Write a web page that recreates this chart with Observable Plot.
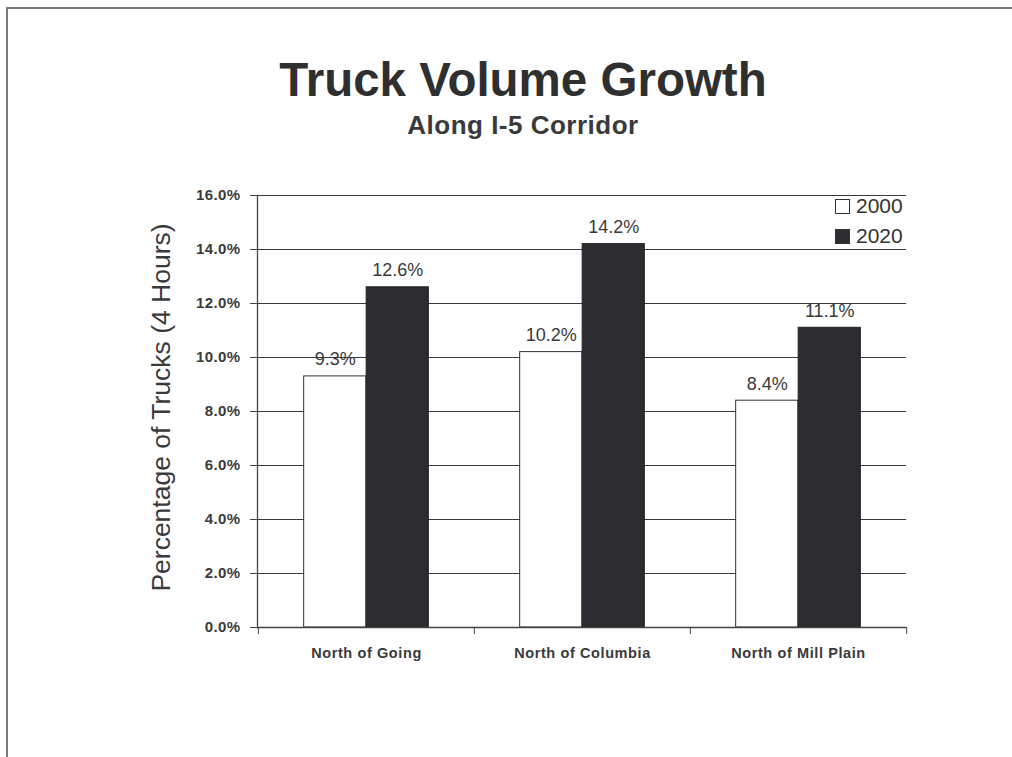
<!DOCTYPE html>
<html>
<head>
<meta charset="utf-8">
<script src="https://cdn.jsdelivr.net/npm/d3@7"></script>
<script src="https://cdn.jsdelivr.net/npm/@observablehq/plot@0.6"></script>
<style>
  html, body { margin: 0; padding: 0; background: #fff; }
  body { width: 1012px; height: 757px; overflow: hidden; position: relative;
         font-family: Arial, "Liberation Sans", Helvetica, sans-serif; color: #333; }
  #frame { position: absolute; left: 6px; top: 7px; width: 1020px; height: 770px;
           border-left: 2px solid #7a7a7a; border-top: 2px solid #7a7a7a; }
  #title { position: absolute; left: 0; width: 1046px; top: 56px; text-align: center;
           font-size: 47.5px; font-weight: bold; color: #2f2f2f; line-height: 1; }
  #subtitle { position: absolute; left: 0; width: 1046px; top: 112px; text-align: center;
           font-size: 26px; font-weight: bold; color: #3a3a3a; line-height: 1; letter-spacing: 0.5px; }
  #chart { position: absolute; left: 0; top: 150px; }
  #legend { position: absolute; left: 835px; top: 195px; font-size: 21px; color: #333; }
  .li { position: relative; height: 30px; line-height: 22px; }
  .sw { position: absolute; left: 0; top: 4px; width: 13px; height: 13px; border: 1px solid #333; box-sizing: content-box; }
  .lt { position: absolute; left: 21px; top: 0; }
  #chart g[aria-label="y-axis tick label"] text { letter-spacing: 0.4px; }
  #chart g[aria-label="x-axis tick label"] text { letter-spacing: 0.6px; }
</style>
</head>
<body>
<div id="frame"></div>
<div id="title">Truck Volume Growth</div>
<div id="subtitle">Along I-5 Corridor</div>
<div id="chart"></div>
<div id="legend"></div>
<script>
// ---- data ----
const categories = ["North of Going", "North of Columbia", "North of Mill Plain"];
const years = ["2000", "2020"];
const values2000 = [9.3, 10.2, 8.4];
const values2020 = [12.6, 14.2, 11.1];
const yTicks = [0, 2, 4, 6, 8, 10, 12, 14, 16];
const yLabel = "Percentage of Trucks (4 Hours)";

// ---- layout ----
const W = 1012, H = 530;
const mL = 257, mR = 106, mT = 45, mB = 53;
const bw = (W - mL - mR) / categories.length;
const barW = 62.5;
const ink = "#333";
const fontFam = "Arial, 'Liberation Sans', Helvetica, sans-serif";
const fills = {"2000": "#ffffff", "2020": "#2d2d31"};

const d2000 = categories.map((c, i) => ({category: c, year: "2000", value: values2000[i]}));
const d2020 = categories.map((c, i) => ({category: c, year: "2020", value: values2020[i]}));
const fmt = d => d.toFixed(1) + "%";

const chart = Plot.plot({
  width: W, height: H,
  marginLeft: mL, marginRight: mR, marginTop: mT, marginBottom: mB,
  style: {fontFamily: fontFam, color: ink, background: "transparent", overflow: "visible"},
  x: {type: "band", domain: categories, padding: 0, axis: null},
  y: {domain: [0, 16], axis: null},
  marks: [
    Plot.ruleY(yTicks.filter(t => t > 0), {stroke: "#3a3a3a", strokeWidth: 1.2}),
    Plot.barY(d2000, {x: "category", y: "value", fill: fills["2000"], stroke: "#333", strokeWidth: 1,
                      insetLeft: bw / 2 - barW, insetRight: bw / 2}),
    Plot.barY(d2020, {x: "category", y: "value", fill: fills["2020"], stroke: "#222", strokeWidth: 1,
                      insetLeft: bw / 2, insetRight: bw / 2 - barW}),
    Plot.text(d2000, {x: "category", y: "value", text: d => fmt(d.value), dx: -barW / 2, dy: -11,
                      lineAnchor: "bottom", fontSize: 18, fill: "#3a3a3a"}),
    Plot.text(d2020, {x: "category", y: "value", text: d => fmt(d.value), dx: barW / 2, dy: -11,
                      lineAnchor: "bottom", fontSize: 18, fill: "#3a3a3a"}),
    Plot.ruleY([0], {stroke: "#444", strokeWidth: 1.3}),
    Plot.frame({anchor: "left", stroke: "#444", strokeWidth: 1.3}),
    Plot.axisY({ticks: yTicks, tickSize: 7, tickPadding: 10, tickFormat: fmt, label: null,
                fontSize: 15, fontWeight: "bold", stroke: "#444", fill: "#3a3a3a"}),
    Plot.axisX({tickSize: 7, text: null, dx: -bw / 2, label: null, stroke: "#444"}),
    Plot.axisX({ticks: [categories[categories.length - 1]], tickSize: 7, text: null, dx: bw / 2, label: null, stroke: "#444"}),
    Plot.axisX({tickSize: 0, tickPadding: 20, label: null, fontSize: 14.5, fontWeight: "bold", fill: "#3a3a3a"}),
    Plot.text([yLabel], {frameAnchor: "left", textAnchor: "middle", rotate: -90, dx: -95.5, dy: -4,
                         fontSize: 26.5, fill: "#3a3a3a"})
  ]
});
document.getElementById("chart").appendChild(chart);

// ---- legend ----
const legend = document.getElementById("legend");
years.forEach(y => {
  const row = document.createElement("div");
  row.className = "li";
  const sw = document.createElement("span");
  sw.className = "sw";
  sw.style.background = fills[y];
  const t = document.createElement("span");
  t.className = "lt";
  t.textContent = y;
  row.appendChild(sw); row.appendChild(t);
  legend.appendChild(row);
});
</script>
</body>
</html>
